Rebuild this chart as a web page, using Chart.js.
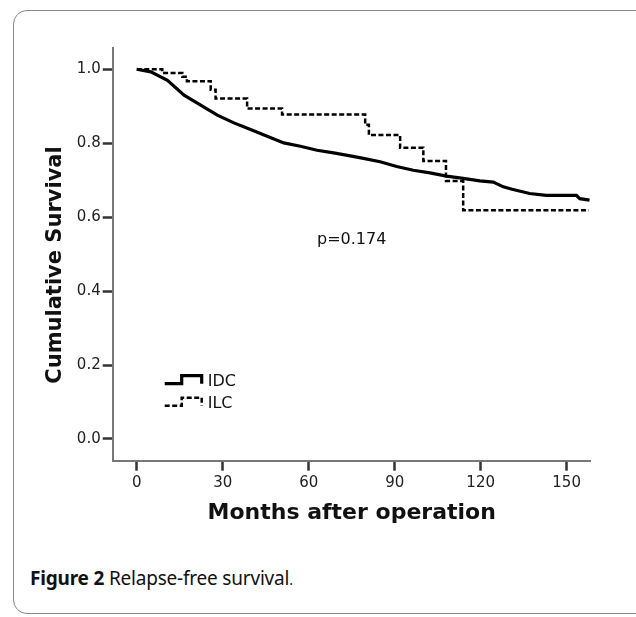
<!DOCTYPE html>
<html>
<head>
<meta charset="utf-8">
<script src="https://cdn.jsdelivr.net/npm/chart.js@4.4.1/dist/chart.umd.min.js"></script>
<style>
body{margin:0;background:#fff;width:636px;height:617px;overflow:hidden;position:relative}
#frame{position:absolute;left:13px;top:10px;width:640px;height:604px;border:1px solid #8a8a8a;border-radius:14px;box-sizing:border-box}
#wrap{position:absolute;left:0;top:0;width:636px;height:540px}
#cap{position:absolute;left:30px;top:565px;font-family:"Noto Sans";font-size:19px;letter-spacing:-0.2px;color:#111;white-space:nowrap}
#cap b{font-weight:700}
</style>
</head>
<body>
<div id="frame"></div>
<div id="wrap"><canvas id="km"></canvas></div>
<div id="cap"><b>Figure 2</b> Relapse-free survival<span style="font-size:14px">.</span></div>
<script>
const xTicks = [0, 30, 60, 90, 120, 150];
const yTicks = [0, 0.2, 0.4, 0.6, 0.8, 1.0];
const seriesNames = ['IDC', 'ILC'];

// IDC
const idcMonths = [0, 4.9, 10.7, 16.5, 22.3, 28.1, 33.9, 39.7, 45.5, 51.3, 57.1, 62.9, 68.7, 74.5, 79.1, 84.9, 90.7, 96.5, 102.3, 108.1, 113.9, 119.7, 124.4, 127.9, 131.3, 137.1, 142.9, 153.4, 154.6, 158];
const idcSurv   = [1.0, 0.993, 0.97, 0.93, 0.903, 0.876, 0.855, 0.837, 0.819, 0.801, 0.792, 0.781, 0.774, 0.766, 0.759, 0.750, 0.737, 0.727, 0.720, 0.711, 0.705, 0.698, 0.695, 0.682, 0.675, 0.664, 0.659, 0.659, 0.650, 0.646];

// ILC - step points (time of drop, new survival)
const ilcMonths = [0, 8.9, 15.9, 17.5, 25.8, 27.5, 38.5, 50.7, 79.7, 81, 91.9, 100, 107.9, 113.9, 157.7];
const ilcSurv   = [1.0, 0.99, 0.98, 0.968, 0.945, 0.921, 0.894, 0.878, 0.85, 0.822, 0.788, 0.752, 0.698, 0.619, 0.619];

const pLabel = 'p=0.174';
const xTitle = 'Months after operation';
const yTitle = 'Cumulative Survival';

const $ = (id) => document.getElementById(id);
const pts = (xs, ys) => xs.map((x, i) => ({ x: x, y: ys[i] }));

const extras = {
    id: 'extras',
    afterDraw(chart) {
        const ctx = chart.ctx, ca = chart.chartArea;
        const sx = chart.scales.x, sy = chart.scales.y;
        ctx.save();
        ctx.fillStyle = '#111';

        // y title
        ctx.save();
        ctx.translate(56, 265);
        ctx.rotate(-Math.PI / 2);
        ctx.font = 'bold 21px "DejaVu Sans"';
        ctx.textAlign = 'center';
        ctx.textBaseline = 'middle';
        ctx.fillText(yTitle, 0, 0);
        ctx.restore();

        // p value
        ctx.font = '16px "DejaVu Sans"';
        ctx.textAlign = 'center';
        ctx.textBaseline = 'middle';
        ctx.fillText(pLabel, sx.getPixelForValue(75), sy.getPixelForValue(0.54));

        // legend with step symbols
        const lx = ca.left + 52;
        chart.data.datasets.forEach((ds, i) => {
            const ry = ca.bottom - 79 + i * 22;
            ctx.beginPath();
            ctx.lineWidth = ds.borderWidth;
            ctx.strokeStyle = ds.borderColor;
            ctx.setLineDash(ds.borderDash || []);
            ctx.moveTo(lx, ry + 2);
            ctx.lineTo(lx + 17, ry + 2);
            ctx.lineTo(lx + 17, ry - 6);
            ctx.lineTo(lx + 37, ry - 6);
            ctx.lineTo(lx + 37, ry + 2);
            ctx.stroke();
            ctx.setLineDash([]);
            ctx.textAlign = 'left';
            ctx.font = '16px "DejaVu Sans"';
            ctx.fillText(ds.label, lx + 43, ry);
        });
        ctx.restore();
    }
};

new Chart($('km'), {
    type: 'line',
    data: {
        datasets: [
            { label: seriesNames[0], data: pts(idcMonths, idcSurv), borderColor: '#000', borderWidth: 3.2, pointRadius: 0, tension: 0, fill: false },
            { label: seriesNames[1], data: pts(ilcMonths, ilcSurv), borderColor: '#000', borderWidth: 2.5, borderDash: [5, 2.5], pointRadius: 0, stepped: true, fill: false }
        ]
    },
    options: {
        responsive: true,
        maintainAspectRatio: false,
        animation: false,
        layout: { padding: { top: 48, right: 45.3, left: 0, bottom: 0 } },
        plugins: { legend: { display: false }, tooltip: { enabled: false } },
        scales: {
            x: {
                type: 'linear', min: -8.4, max: 158.4,
                afterBuildTicks: s => { s.ticks = xTicks.map(v => ({ value: v })); },
                afterFit: s => { s.height = 79.3; },
                grid: { display: true, drawOnChartArea: false, drawTicks: true, tickLength: 10, tickWidth: 2.5, tickColor: '#333' },
                border: { display: true, color: '#777', width: 2 },
                ticks: { padding: 3, color: '#222', font: { family: 'DejaVu Sans', size: 15 }, maxRotation: 0, autoSkip: false },
                title: { display: true, text: xTitle, color: '#111', font: { family: 'DejaVu Sans', size: 22, weight: 'bold' }, padding: { top: 0, bottom: 14 } }
            },
            y: {
                type: 'linear', min: -0.0587, max: 1.0576,
                afterBuildTicks: s => { s.ticks = yTicks.map(v => ({ value: v })); },
                afterFit: s => { s.width = 112.7; },
                grid: { display: true, drawOnChartArea: false, drawTicks: true, tickLength: 10, tickWidth: 2.5, tickColor: '#333' },
                border: { display: true, color: '#777', width: 2 },
                ticks: { padding: 2, color: '#222', font: { family: 'DejaVu Sans', size: 15 }, callback: v => v.toFixed(1) }
            }
        }
    },
    plugins: [extras]
});
</script>
</body>
</html>
